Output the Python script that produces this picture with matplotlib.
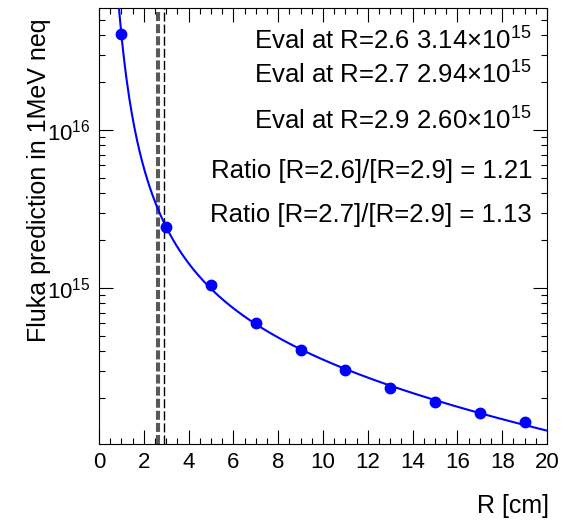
import numpy as np
import matplotlib
matplotlib.use("Agg")
import matplotlib.pyplot as plt
from matplotlib.ticker import LogLocator, FuncFormatter, NullFormatter, MultipleLocator

# measured points (R in cm, fluence in 1 MeV neq)
r_points = [1, 3, 5, 7, 9, 11, 13, 15, 17, 19]
fluence = [4.05e16, 2.44e15, 1.045e15, 6.05e14, 4.07e14, 3.04e14,
           2.32e14, 1.905e14, 1.62e14, 1.41e14]

# fit evaluated at these radii (values quoted on the plot)
eval_r = [2.6, 2.7, 2.9]
eval_val = [3.14e15, 2.94e15, 2.60e15]

plt.rcParams['font.family'] = ['Liberation Sans', 'DejaVu Sans']
plt.rcParams['mathtext.fontset'] = 'custom'
plt.rcParams['mathtext.rm'] = 'Liberation Sans'
plt.rcParams['mathtext.it'] = 'Liberation Sans:italic'
plt.rcParams['mathtext.bf'] = 'Liberation Sans:bold'
plt.rcParams['lines.scale_dashes'] = False

fig = plt.figure(figsize=(5.7, 5.2), dpi=100)
ax = fig.add_axes([99 / 570, 76 / 520, 448 / 570, 436 / 520])

# fit: cubic in log-log space through the points
u = np.log10(np.concatenate([r_points, eval_r]))
v = np.log10(np.concatenate([fluence, eval_val]))
coef = np.polyfit(u, v, 3)
r_fine = np.linspace(0.85, 20, 500)
ax.plot(r_fine, 10 ** np.polyval(coef, np.log10(r_fine)), color='blue', lw=1.5, zorder=3)

ax.plot(r_points, fluence, 'o', color='blue', ms=7.5, zorder=4)

# vertical markers at the evaluation radii
line_cols = ['0.35', '0.35', 'black']
line_w = [1.5, 1.5, 1.0]
for r, c, w in zip(eval_r, line_cols, line_w):
    ax.axvline(r, color=c, lw=w, ls=(0, (6.5, 2.2)), zorder=2)

ax.set_yscale('log')
ax.set_xlim(0, 20)
ax.set_ylim(1.03e14, 5.92e16)

ax.xaxis.set_major_locator(MultipleLocator(2))
ax.xaxis.set_minor_locator(MultipleLocator(0.5))
ax.yaxis.set_major_locator(LogLocator(base=10))
ax.yaxis.set_minor_locator(LogLocator(base=10, subs=np.arange(2, 10)))
ax.yaxis.set_major_formatter(FuncFormatter(lambda val, p: f"10$^{{{int(round(np.log10(val)))}}}$"))
ax.yaxis.set_minor_formatter(NullFormatter())

ax.tick_params(which='both', direction='in', top=True, right=True, width=0.8, labelsize=16)
ax.tick_params(which='major', length=10)
ax.tick_params(which='minor', length=4.5)
ax.tick_params(axis='x', pad=6)
ax.tick_params(axis='y', pad=6)
for s in ax.spines.values():
    s.set_linewidth(0.8)

ax.set_xlabel('R [cm]', fontsize=18, loc='right')
ax.xaxis.set_label_coords(1.005, -0.115)
ax.set_ylabel('Fluka prediction in 1MeV neq', fontsize=18, loc='top')
ax.yaxis.set_label_coords(-0.108, 0.975)

# annotations
lines = []
for r, val in zip(eval_r, eval_val):
    e = int(np.floor(np.log10(val)))
    lines.append(f"Eval at R={r} {val / 10 ** e:.2f}×10$^{{{e}}}$")
lines.append(f"Ratio [R={eval_r[0]}]/[R={eval_r[2]}] = {eval_val[0] / eval_val[2]:.2f}")
lines.append(f"Ratio [R={eval_r[1]}]/[R={eval_r[2]}] = {eval_val[1] / eval_val[2]:.2f}")
text_y = [50, 84, 130, 178, 222]
for txt, yp in zip(lines, text_y):
    ax.text(0.967, (444 - yp) / 436, txt, transform=ax.transAxes, ha='right',
            va='baseline', fontsize=18.5)

fig.savefig('out.png', dpi=100)
